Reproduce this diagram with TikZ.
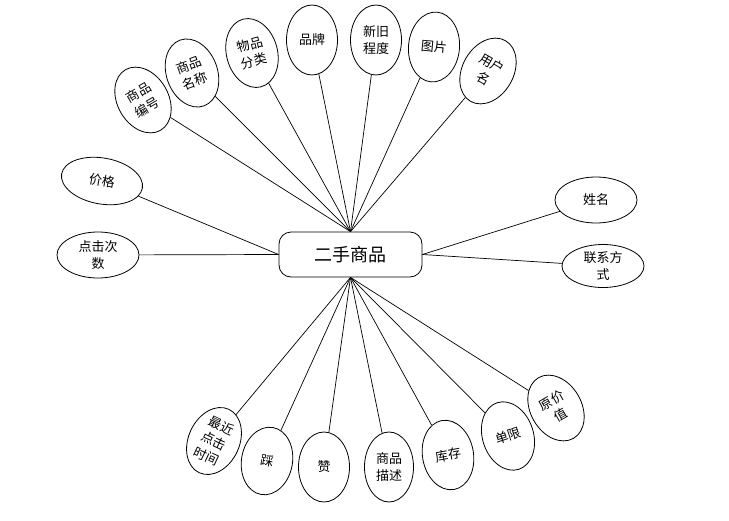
\documentclass[tikz,border=0pt]{standalone}
\usepackage{fontspec}
\newfontfamily\cjk{Noto Sans CJK SC}
\usetikzlibrary{shapes.geometric}
\tikzset{
  attr/.style={ellipse, draw, line width=0.8pt, fill=white, inner sep=0pt, align=center,
    minimum width=51pt, minimum height=70pt, font=\cjk\fontsize{13}{17}\selectfont},
  hattr/.style={attr, minimum width=82pt, minimum height=46pt},
  hub/.style={draw, line width=0.8pt, fill=white, rounded corners=12pt, minimum width=143pt,
    minimum height=45pt, inner sep=0pt, font=\cjk\fontsize{18}{22}\selectfont},
  link/.style={line width=0.7pt}
}
\begin{document}
\begin{tikzpicture}[x=1pt,y=-1pt]
\useasboundingbox (0,0) rectangle (729,520);
\node[hub] (box) at (350.5,254.5) {二手商品};
% top
\node[attr, rotate=30] (e1) at (143,100) {商品\\编号};
\node[attr, rotate=20] (e2) at (192,73) {商品\\名称};
\node[attr, rotate=15] (e3) at (252,53) {物品\\分类};
\node[attr] (e4) at (312,40) {品牌};
\node[attr] (e5) at (376,40) {新旧\\程度};
\node[attr, rotate=-5] (e6) at (434,47) {图片};
\node[attr, rotate=-30] (e7) at (488,71) {用户\\名};
% left
\node[hattr, rotate=-10] (e8) at (102,181) {价格};
\node[hattr] (e9) at (98,255) {点击次\\数};
% right
\node[hattr] (e10) at (596,200) {姓名};
\node[hattr, minimum height=43pt] (e11) at (603,266) {联系方\\式};
% bottom
\node[attr, rotate=-25] (e12) at (214,441) {最近\\点击\\时间};
\node[attr, rotate=-10, minimum height=68pt] (e13) at (267,461) {踩};
\node[attr] (e14) at (324,467) {赞};
\node[attr, minimum width=49pt] (e15) at (389,467) {商品\\描述};
\node[attr, rotate=10] (e16) at (448,455) {库存};
\node[attr, rotate=18] (e17) at (508,436) {单限};
\node[attr, rotate=30] (e18) at (556,408) {原价\\值};
% links
\foreach \n in {e1,e2,e3,e4,e5,e6,e7} \draw[link] (\n) -- (box.north);
\foreach \n in {e12,e13,e14,e15,e16,e17,e18} \draw[link] (\n) -- (box.south);
\draw[link] (e8) -- (box.west);
\draw[link] (e9) -- (box.west);
\draw[link] (e10) -- (box.east);
\draw[link] (e11) -- (box.east);
\end{tikzpicture}
\end{document}
